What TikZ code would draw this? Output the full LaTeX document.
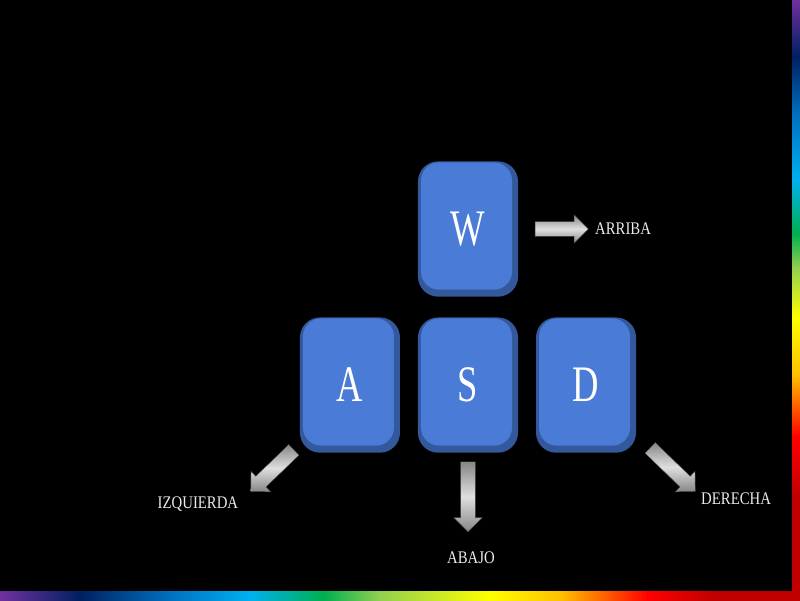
\documentclass[tikz,border=0pt]{standalone}
\usepackage{fontspec}
\setmainfont{Liberation Serif}
\usetikzlibrary{positioning,shapes.arrows}

\definecolor{keyface}{HTML}{4A7BD6}
\definecolor{keyedge}{HTML}{34589C}
\definecolor{rbPurple}{HTML}{7030A0}
\definecolor{rbNavy}{HTML}{002060}
\definecolor{rbBlue}{HTML}{0070C0}
\definecolor{rbSky}{HTML}{00B0F0}
\definecolor{rbGreen}{HTML}{00B050}
\definecolor{rbLime}{HTML}{92D050}
\definecolor{rbYellow}{HTML}{FFFF00}
\definecolor{rbOrange}{HTML}{FFC000}
\definecolor{rbRed}{HTML}{FF0000}
\definecolor{rbDark}{HTML}{C00000}

\begin{document}
\begin{tikzpicture}[x=0.025cm, y=-0.025cm, on grid,
	keycap/.style={fill=keyedge, minimum width=2.5cm, minimum height=3.38cm, rounded corners=0.5cm, inner sep=0, text=white, font=\fontsize{26}{28}\selectfont,
		path picture={\fill[keyface, rounded corners=0.45cm] ([shift={(3,1)}]path picture bounding box.north west) rectangle ([shift={(-6,-7)}]path picture bounding box.south east);}},
	arrowblk/.style={single arrow, inner sep=0.18cm, single arrow head extend=0.17cm, top color=gray!95, bottom color=gray!95, middle color=gray!25, draw=gray!50!black, line width=0.3pt},
	lbl/.style={text=white!92!black, font=\fontsize{10.5}{12}\selectfont}]
	% page and rainbow frame
	\useasboundingbox (0,0) rectangle (800,600);
	\fill[black] (0,0) rectangle (800,600);
	\foreach \a/\b/\ca/\cb in {0/80/rbPurple/rbNavy, 80/170/rbNavy/rbBlue, 170/250/rbBlue/rbSky, 250/324/rbSky/rbGreen, 324/380/rbGreen/rbLime, 380/490/rbLime/rbYellow, 490/561/rbYellow/rbOrange, 561/648/rbOrange/rbRed, 648/714/rbRed/rbDark, 714/793/rbDark/rbDark}
		\shade[left color=\ca, right color=\cb] (\a-0.3,591) rectangle (\b,600);
	\foreach \a/\b/\ca/\cb in {0/57/rbPurple/rbNavy, 57/115/rbNavy/rbBlue, 115/180/rbBlue/rbSky, 180/234/rbSky/rbGreen, 234/268/rbGreen/rbLime, 268/318/rbLime/rbYellow, 318/375/rbYellow/rbOrange, 375/437/rbOrange/rbRed, 437/498/rbRed/rbDark, 498/600/rbDark/rbDark}
		\shade[top color=\ca, bottom color=\cb] (792,\a-0.3) rectangle (800,\b);
	
	% keys
	\node[keycap] (W) at (468,229) {\scalebox{1}[1.4]{W}};
	\node[keycap] (S) [below=3.9cm of W] {\scalebox{1}[1.4]{S}};
	\node[keycap] (A) [left=2.95cm of S] {\scalebox{1}[1.4]{A}};
	\node[keycap] (D) [right=2.95cm of S] {\scalebox{1}[1.4]{D}};
	
	% arrows
	\node[arrowblk, minimum height=1.33cm] (aW) [right=2.25cm of W] {};
	\node[arrowblk, minimum height=1.5cm, rotate=224] (aA) [below left=2.075cm and 1.875cm of A] {};
	\node[arrowblk, minimum height=1.75cm, rotate=270] (aS) [below=2.825cm of S, xshift=-0.125cm] {};
	\node[arrowblk, minimum height=1.57cm, rotate=-44] (aD) [below right=2.05cm and 2.1cm of D] {};
	
	% labels
	\node[lbl] (lW) [right=1.625cm of aW] {\scalebox{1}[1.2]{ARRIBA}};
	\node[lbl] (lA) [below left=0.9cm and 1.925cm of aA] {\scalebox{1}[1.2]{IZQUIERDA}};
	\node[lbl] (lS) [below=1.625cm of aS, xshift=0.075cm] {\scalebox{1}[1.2]{ABAJO}};
	\node[lbl] (lD) [below right=0.8cm and 1.65cm of aD] {\scalebox{1}[1.2]{DERECHA}};
	
\end{tikzpicture}
\end{document}
